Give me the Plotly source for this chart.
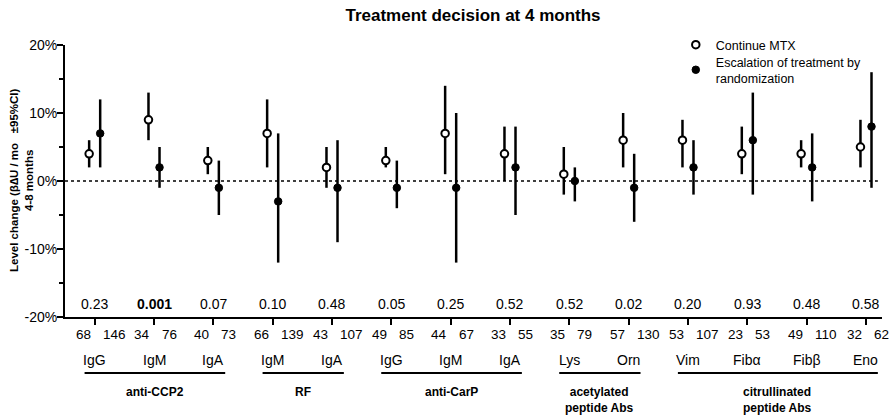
import plotly.graph_objects as go

# ---------------- data ----------------
categories = ["IgG", "IgM", "IgA", "IgM", "IgA", "IgG", "IgM", "IgA",
              "Lys", "Orn", "Vim", "Fibα", "Fibβ", "Eno"]
n_mtx = [68, 34, 40, 66, 43, 49, 44, 33, 35, 57, 53, 23, 49, 32]
n_esc = [146, 76, 73, 139, 107, 85, 67, 55, 79, 130, 107, 53, 110, 62]
p_values = ["0.23", "0.001", "0.07", "0.10", "0.48", "0.05", "0.25", "0.52",
            "0.52", "0.02", "0.20", "0.93", "0.48", "0.58"]
p_bold = [False, True, False, False, False, False, False, False,
          False, False, False, False, False, False]

mtx_est = [4, 9, 3, 7, 2, 3, 7, 4, 1, 6, 6, 4, 4, 5]
mtx_lo = [2, 6, 1, 2, -1, 2, 1, 0, -2, 2, 2, 1, 2, 2]
mtx_hi = [6, 13, 5, 12, 5, 5, 14, 8, 5, 10, 9, 8, 6, 9]

esc_est = [7, 2, -1, -3, -1, -1, -1, 2, 0, -1, 2, 6, 2, 8]
esc_lo = [2, -1, -5, -12, -9, -4, -12, -5, -3, -6, -2, -2, -3, -1]
esc_hi = [12, 5, 3, 7, 6, 3, 10, 8, 2, 4, 6, 13, 7, 16]

group_names = ["anti-CCP2", "RF", "anti-CarP",
               "acetylated<br>peptide Abs", "citrullinated<br>peptide Abs"]
group_start = [0, 3, 5, 8, 10]
group_end = [2, 4, 7, 9, 13]

y_tickvals = [-20, -10, 0, 10, 20]
y_ticktext = ["-20%", "-10%", "0%", "10%", "20%"]

series_names = ["Continue MTX", "Escalation of treatment by<br>randomization"]

# ---------------- figure ----------------
FONT = "Liberation Sans, Arial, sans-serif"
idx = list(range(len(categories)))
off = 0.093

fig = go.Figure()
fig.add_trace(go.Scatter(
    x=[i - off for i in idx], y=mtx_est, mode="markers", name=series_names[0],
    legend="legend",
    marker=dict(symbol="circle", size=7.5, color="white",
                line=dict(color="black", width=2)),
    error_y=dict(type="data", symmetric=False,
                 array=[h - e for h, e in zip(mtx_hi, mtx_est)],
                 arrayminus=[e - l for e, l in zip(mtx_est, mtx_lo)],
                 color="black", thickness=2.5, width=0),
))
fig.add_trace(go.Scatter(
    x=[i + off for i in idx], y=esc_est, mode="markers", name=series_names[1],
    legend="legend2",
    marker=dict(symbol="circle", size=7.5, color="black",
                line=dict(color="black", width=1)),
    error_y=dict(type="data", symmetric=False,
                 array=[h - e for h, e in zip(esc_hi, esc_est)],
                 arrayminus=[e - l for e, l in zip(esc_est, esc_lo)],
                 color="black", thickness=2.5, width=0),
))

# zero reference line
fig.add_shape(type="line", xref="x", yref="y", x0=-0.5, x1=13.2, y0=0, y1=0,
              line=dict(color="black", width=1.5, dash="dot"), layer="below")

ann = []
for i in idx:
    # p-values
    ann.append(dict(x=i, y=-20, xref="x", yref="y", yanchor="bottom", yshift=3,
                    text=("<b>%s</b>" % p_values[i]) if p_bold[i] else p_values[i],
                    showarrow=False, font=dict(size=14, color="black", family=FONT)))
    # n labels
    ann.append(dict(x=i, y=-20, xref="x", yref="y", xanchor="right", yanchor="top",
                    xshift=-2, yshift=-8, text=str(n_mtx[i]), showarrow=False,
                    font=dict(size=13.5, color="black", family=FONT)))
    ann.append(dict(x=i, y=-20, xref="x", yref="y", xanchor="left", yanchor="top",
                    xshift=6, yshift=-8, text=str(n_esc[i]), showarrow=False,
                    font=dict(size=13.5, color="black", family=FONT)))
    # category labels
    ann.append(dict(x=i, y=-20, xref="x", yref="y", yanchor="top", yshift=-33,
                    text=categories[i], showarrow=False,
                    font=dict(size=14, color="black", family=FONT)))

for name, s, e in zip(group_names, group_start, group_end):
    fig.add_shape(type="line", xref="x", yref="paper", x0=s - 0.17, x1=e + 0.2,
                  y0=-0.206, y1=-0.206, line=dict(color="black", width=2))
    ann.append(dict(x=(s + e) / 2 + 0.015, y=-20, xref="x", yref="y", yanchor="top",
                    yshift=-66, text="<b>%s</b>" % name, showarrow=False,
                    font=dict(size=12, color="black", family=FONT)))

# y-axis title
ann.append(dict(x=0, y=0, xref="paper", yref="y", xanchor="center", yanchor="middle",
                xshift=-44, textangle=-90,
                text="<b>Level change (β∆U / mo   ±95%CI)<br>4-8 months</b>",
                showarrow=False, font=dict(size=11.5, color="black", family=FONT)))

fig.update_layout(
    width=895, height=417,
    margin=dict(l=65, r=13, t=45, b=100),
    paper_bgcolor="white", plot_bgcolor="white",
    font=dict(family=FONT, color="black", size=13),
    title=dict(text="<b>Treatment decision at 4 months</b>", x=473 / 895, xanchor="center",
               y=1 - 15 / 417, yanchor="middle",
               font=dict(size=17, family=FONT, color="black")),
    showlegend=True,
    legend=dict(x=0.7476, y=1.0, xanchor="left", yanchor="middle",
                bgcolor="rgba(0,0,0,0)", font=dict(size=12.5, family=FONT, color="black")),
    legend2=dict(x=0.7476, y=(317 - 70) / 272, xanchor="left", yanchor="middle",
                 bgcolor="rgba(0,0,0,0)", font=dict(size=12.5, family=FONT, color="black")),
    annotations=ann,
)
fig.update_xaxes(range=[-0.5, 13.27], tickvals=idx, showticklabels=False,
                 ticks="outside", ticklen=6, tickwidth=2, tickcolor="black",
                 showline=True, linecolor="black", linewidth=2,
                 showgrid=False, zeroline=False)
fig.update_yaxes(range=[-20, 20], tickvals=y_tickvals, ticktext=y_ticktext,
                 ticks="outside", ticklen=6, tickwidth=2, tickcolor="black",
                 ticklabelstandoff=-3,
                 minor=dict(tickvals=[-15, -5, 5, 15], ticks="outside", ticklen=4,
                            tickwidth=2, tickcolor="black", showgrid=False),
                 tickfont=dict(size=14, family=FONT, color="black"),
                 showline=True, linecolor="black", linewidth=2,
                 showgrid=False, zeroline=False)

fig.write_html("out.html")
